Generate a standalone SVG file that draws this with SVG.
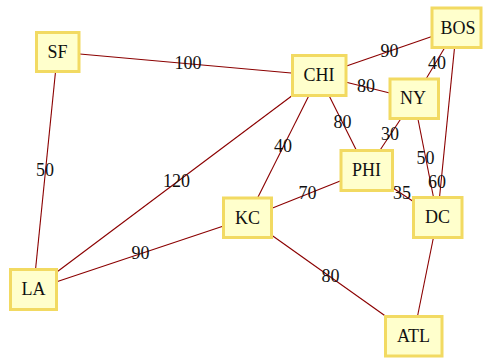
<svg xmlns="http://www.w3.org/2000/svg" width="484" height="358" viewBox="0 0 484 358">
<style>
.n rect{fill:#ffffcc;stroke:#f2da62;stroke-width:3}
.n text,.l text{font-family:"Liberation Serif","Times New Roman",serif;font-size:18px;fill:#111;text-anchor:middle}
.e line{stroke:#8b0000;stroke-width:1.1}
</style>
<rect width="484" height="358" fill="#fff"/>
<g id="connectors" class="e">
<line x1="57.5" y1="52" x2="319" y2="75.5"/>
<line x1="57.5" y1="52" x2="33.5" y2="289.5"/>
<line x1="319" y1="75.5" x2="456.5" y2="28"/>
<line x1="319" y1="75.5" x2="414" y2="99"/>
<line x1="456.5" y1="28" x2="414" y2="99"/>
<line x1="456.5" y1="28" x2="437.5" y2="217.5"/>
<line x1="414" y1="99" x2="437.5" y2="217.5"/>
<line x1="319" y1="75.5" x2="366.5" y2="170.5"/>
<line x1="414" y1="99" x2="366.5" y2="170.5"/>
<line x1="319" y1="75.5" x2="247.5" y2="218"/>
<line x1="319" y1="75.5" x2="33.5" y2="289.5"/>
<line x1="366.5" y1="170.5" x2="437.5" y2="217.5"/>
<line x1="366.5" y1="170.5" x2="247.5" y2="218"/>
<line x1="247.5" y1="218" x2="33.5" y2="289.5"/>
<line x1="247.5" y1="218" x2="413.5" y2="336"/>
<line x1="437.5" y1="217.5" x2="413.5" y2="336"/>
</g>
<g id="labels" class="l">
<text x="188" y="69">100</text>
<text x="45" y="176">50</text>
<text x="389.5" y="57">90</text>
<text x="366" y="92">80</text>
<text x="437" y="69">40</text>
<text x="437" y="187.5">60</text>
<text x="425.5" y="164">50</text>
<text x="342.5" y="128">80</text>
<text x="390" y="140">30</text>
<text x="283" y="152">40</text>
<text x="176.5" y="187">120</text>
<text x="402" y="199">35</text>
<text x="307.5" y="199">70</text>
<text x="140.5" y="259">90</text>
<text x="330.5" y="282">80</text>
</g>
<g id="SF" class="n"><rect x="36.5" y="32.5" width="42.5" height="39"/><text x="57.5" y="57.5">SF</text></g>
<g id="CHI" class="n"><rect x="292.5" y="55.5" width="53.5" height="40"/><text x="319" y="81">CHI</text></g>
<g id="BOS" class="n"><rect x="432" y="8" width="49" height="39.5"/><text x="458" y="33.5">BOS</text></g>
<g id="NY" class="n"><rect x="390" y="79" width="48.5" height="39.5"/><text x="413" y="104">NY</text></g>
<g id="PHI" class="n"><rect x="341" y="150.5" width="51.5" height="40"/><text x="366.5" y="176">PHI</text></g>
<g id="DC" class="n"><rect x="413.5" y="197.5" width="48.5" height="40"/><text x="437.5" y="223">DC</text></g>
<g id="KC" class="n"><rect x="223.5" y="198" width="48" height="39.5"/><text x="247.5" y="223.5">KC</text></g>
<g id="LA" class="n"><rect x="10.5" y="269.5" width="46" height="40"/><text x="33.5" y="295">LA</text></g>
<g id="ATL" class="n"><rect x="385.5" y="316.5" width="56.5" height="39.5"/><text x="413.5" y="342">ATL</text></g>
</svg>
